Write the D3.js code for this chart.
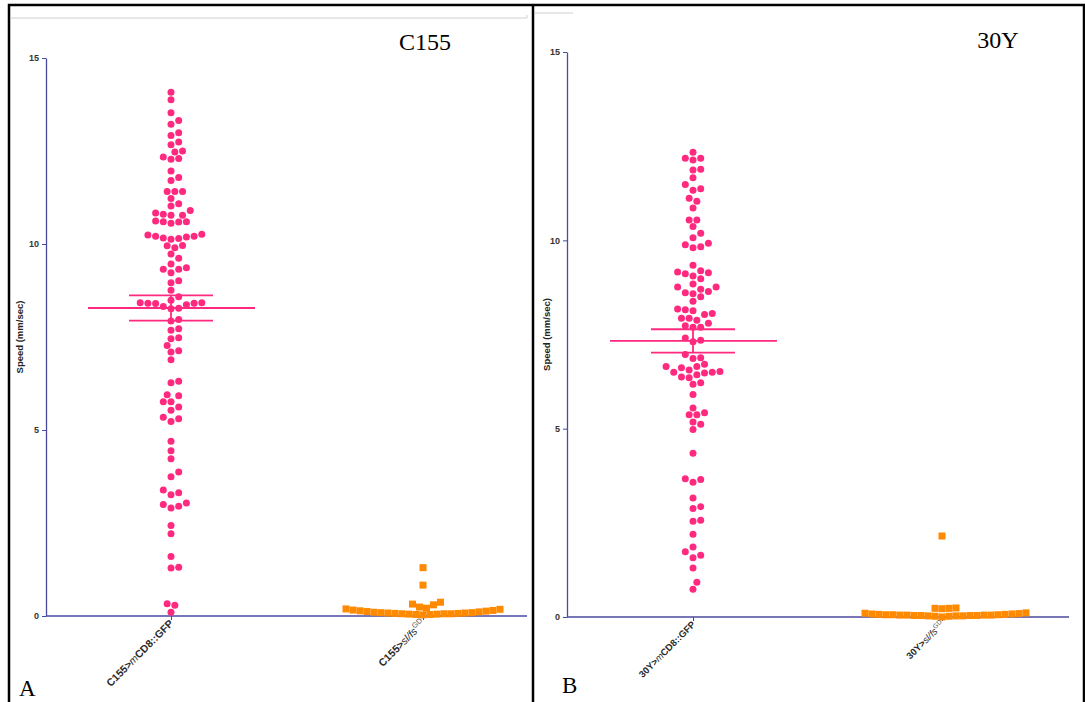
<!doctype html>
<html>
<head>
<meta charset="utf-8">
<style>
  body { margin: 0; background: #fff; }
  svg { display: block; font-family: "Liberation Sans", Arial, sans-serif; }
  .tick text { font-size: 9px; font-weight: bold; fill: #333; }
</style>
<script src="https://d3js.org/d3.v7.min.js"></script>
</head>
<body>
<svg width="1085" height="702"></svg>
<script>
// values (mm/sec)
var c155Gfp = [14.08, 13.88, 13.53, 13.32, 13.22, 12.99, 12.92, 12.74, 12.67, 12.50, 12.47, 12.34, 12.30, 12.28,
  11.96, 11.79, 11.71, 11.41, 11.41, 11.41, 11.22, 11.08, 11.02, 10.90, 10.83, 10.80, 10.77, 10.77, 10.62, 10.60,
  10.60, 10.59, 10.56, 10.26, 10.24, 10.21, 10.21, 10.19, 10.16, 10.15, 10.13, 9.96, 9.95, 9.90, 9.73, 9.62, 9.46,
  9.36, 9.32, 9.32, 9.23, 9.01, 8.96, 8.76, 8.58, 8.49, 8.42, 8.42, 8.41, 8.41, 8.40, 8.37, 8.32, 8.27, 8.26, 7.97,
  7.93, 7.72, 7.68, 7.48, 7.45, 7.27, 7.13, 7.10, 6.89, 6.31, 6.27, 5.95, 5.92, 5.76, 5.76, 5.62, 5.53, 5.34, 5.30,
  5.23, 4.70, 4.44, 4.23, 3.87, 3.74, 3.39, 3.31, 3.26, 3.04, 3.00, 2.95, 2.90, 2.43, 2.21, 1.60, 1.31, 1.29, 0.33,
  0.29, 0.10];
var c155Slfs = [1.30, 0.83, 0.37, 0.32, 0.30, 0.24,
  0.03, 0.04, 0.04, 0.05, 0.05, 0.06, 0.06, 0.06, 0.07, 0.07, 0.08, 0.08, 0.09, 0.09, 0.10, 0.11, 0.12, 0.13,
  0.14, 0.15, 0.16, 0.18, 0.19, 0.21];
var y30Gfp = [12.34, 12.18, 12.18, 12.13, 11.89, 11.87, 11.66, 11.48, 11.37, 11.33, 11.12, 11.04, 10.86, 10.54,
  10.54, 10.37, 10.19, 10.07, 9.92, 9.88, 9.83, 9.80, 9.34, 9.19, 9.16, 9.14, 9.11, 9.05, 8.98, 8.84, 8.76, 8.76,
  8.70, 8.64, 8.61, 8.58, 8.50, 8.38, 8.18, 8.16, 8.13, 8.06, 8.03, 7.93, 7.93, 7.88, 7.80, 7.73, 7.69, 7.69, 7.41,
  7.35, 7.31, 6.97, 6.88, 6.86, 6.71, 6.65, 6.65, 6.62, 6.56, 6.52, 6.50, 6.50, 6.48, 6.43, 6.37, 6.35, 6.22, 6.18,
  5.91, 5.55, 5.42, 5.37, 5.37, 5.18, 5.12, 4.98, 4.35, 3.67, 3.65, 3.58, 3.16, 2.93, 2.88, 2.57, 2.54, 2.20, 1.86,
  1.73, 1.64, 1.57, 1.30, 0.92, 0.74];
var y30Slfs = [2.15, 0.24, 0.23, 0.23, 0.22,
  0.00, 0.02, 0.02, 0.03, 0.03, 0.03, 0.04, 0.04, 0.04, 0.04, 0.05, 0.05, 0.05, 0.05, 0.06, 0.06,
  0.06, 0.07, 0.07, 0.08, 0.08, 0.09, 0.10, 0.11];

var means = [8.28, 7.33];   // mean of the GFP groups
var sems = [0.34, 0.31];    // SEM of the GFP groups
var yTicks = [0, 5, 10, 15];
var titles = ["C155", "30Y"];
var letters = ["A", "B"];
var driverNames = ["C155", "30Y"];

var pink = "#ff2a7f", orange = "#ff8a00", axisCol = "#4a4aa0";

var svg = d3.select("svg");

// frame
svg.append("path").attr("d", "M9,702V5H1084V702").attr("fill", "none").attr("stroke", "#000").attr("stroke-width", 2.5);
svg.append("path").attr("d", "M533,5V702").attr("stroke", "#000").attr("stroke-width", 2.5);
svg.append("path").attr("d", "M10,18H527V15").attr("fill", "none").attr("stroke", "#cfcfcf").attr("stroke-width", 1);
svg.append("path").attr("d", "M535,13H573").attr("fill", "none").attr("stroke", "#cfcfcf").attr("stroke-width", 1);

// simple beeswarm: place points ascending, nearest free slot
function swarm(vals, y, step, minD) {
  var placed = [];
  vals.slice().sort(d3.ascending).forEach(function(v) {
    var yy = y(v);
    for (var k = 0; k < 400; k++) {
      var tries = k === 0 ? [0] : [k * step, -k * step];
      var ok = null;
      for (var t = 0; t < tries.length; t++) {
        var dx = tries[t];
        var hit = placed.some(function(p) {
          return (p.dx - dx) * (p.dx - dx) + (p.y - yy) * (p.y - yy) < minD * minD;
        });
        if (!hit) { ok = dx; break; }
      }
      if (ok !== null) { placed.push({v: v, y: yy, dx: ok}); break; }
    }
  });
  return placed;
}

var panels = [
  {x0: 46, x1: 527, top: 58, bottom: 616, c1: 171, c2: 423, gfp: c155Gfp, slfs: c155Slfs, lblSize: 10.5,
   yLabX: 20, titleX: 425, titleY: 50, letterX: 19, letterY: 696},
  {x0: 567, x1: 1069, top: 52, bottom: 617, c1: 693, c2: 942, gfp: y30Gfp, slfs: y30Slfs, lblSize: 9.5,
   yLabX: 547, titleX: 998, titleY: 48, letterX: 562, letterY: 693}
];

panels.forEach(function(p, i) {
  var cats = ["gfp", "slfs"];
  var x = d3.scalePoint().domain(cats).range([p.c1, p.c2]);
  var y = d3.scaleLinear().domain([0, 15]).range([p.bottom, p.top]);
  var g = svg.append("g");

  // y axis
  var ya = g.append("g").attr("transform", "translate(" + p.x0 + ",0)")
    .call(d3.axisLeft(y).tickValues(yTicks).tickSize(4).tickSizeOuter(0));
  ya.select(".domain").attr("stroke", axisCol).attr("stroke-width", 1.3);
  ya.selectAll(".tick line").attr("stroke", axisCol);

  // x axis
  var xa = g.append("g").attr("transform", "translate(0," + p.bottom + ")")
    .call(d3.axisBottom(x).tickSize(4).tickSizeOuter(0).tickFormat(""));
  xa.select(".domain").attr("d", "M" + p.x0 + ",0H" + p.x1).attr("stroke", axisCol).attr("stroke-width", 1.3);
  xa.selectAll(".tick line").attr("stroke", axisCol);

  // category labels
  var lab1 = g.append("text")
    .attr("transform", "translate(" + (x("gfp") + 3) + "," + (p.bottom + 8) + ") rotate(-45)")
    .attr("text-anchor", "end").attr("font-size", p.lblSize).attr("font-weight", "bold").attr("fill", "#2a2a2a");
  lab1.append("tspan").text(driverNames[i] + ">");
  lab1.append("tspan").attr("font-style", "italic").attr("font-weight", "normal").text("m");
  lab1.append("tspan").text("CD8::GFP");

  var lab2 = g.append("text")
    .attr("transform", "translate(" + (x("slfs") + 3) + "," + (p.bottom + 8) + ") rotate(-45)")
    .attr("text-anchor", "end").attr("font-size", p.lblSize).attr("font-weight", "bold").attr("fill", "#2a2a2a");
  lab2.append("tspan").text(driverNames[i] + ">");
  lab2.append("tspan").attr("font-style", "italic").attr("font-weight", "normal").text("sl/fs");
  lab2.append("tspan").attr("dy", "-0.6em").attr("font-size", p.lblSize - 3).attr("font-weight", "normal")
    .attr("fill", "#555").text("GD");

  // y label
  g.append("text")
    .attr("transform", "translate(" + p.yLabX + "," + ((p.top + p.bottom) / 2) + ") rotate(-90)")
    .attr("text-anchor", "middle").attr("font-size", 9.5).attr("font-weight", "bold").attr("fill", "#222")
    .attr("dy", "0.35em").text("Speed (mm/sec)");

  // title + panel letter
  g.append("text").attr("x", p.titleX).attr("y", p.titleY).attr("text-anchor", "middle")
    .attr("font-family", "Liberation Serif, Times New Roman, serif").attr("font-size", 24).text(titles[i]);
  g.append("text").attr("x", p.letterX).attr("y", p.letterY)
    .attr("font-family", "Liberation Serif, Times New Roman, serif").attr("font-size", 23).text(letters[i]);

  // GFP dots
  g.selectAll(".dot").data(swarm(p.gfp, y, 3.85, 7.3)).enter().append("circle")
    .attr("class", "dot")
    .attr("cx", function(d) { return x("gfp") + d.dx; })
    .attr("cy", function(d) { return d.y; })
    .attr("r", 3.5).attr("fill", pink);

  // sl/fs squares
  g.selectAll(".sq").data(swarm(p.slfs, y, 3.5, 7)).enter().append("rect")
    .attr("class", "sq")
    .attr("x", function(d) { return x("slfs") + d.dx - 3.5; })
    .attr("y", function(d) { return d.y - 3.5; })
    .attr("width", 7).attr("height", 7).attr("fill", orange);

  // mean and SEM
  var cx = x("gfp"), my = y(means[i]), hi = y(means[i] + sems[i]), lo = y(means[i] - sems[i]);
  var err = g.append("g").attr("stroke", pink).attr("stroke-width", 1.8).attr("fill", "none");
  err.append("line").attr("x1", cx - 83).attr("x2", cx + 84).attr("y1", my).attr("y2", my);
  err.append("line").attr("x1", cx - 42).attr("x2", cx + 42).attr("y1", hi).attr("y2", hi);
  err.append("line").attr("x1", cx - 42).attr("x2", cx + 42).attr("y1", lo).attr("y2", lo);
  err.append("line").attr("x1", cx).attr("x2", cx).attr("y1", hi).attr("y2", lo);
});
</script>
</body>
</html>
